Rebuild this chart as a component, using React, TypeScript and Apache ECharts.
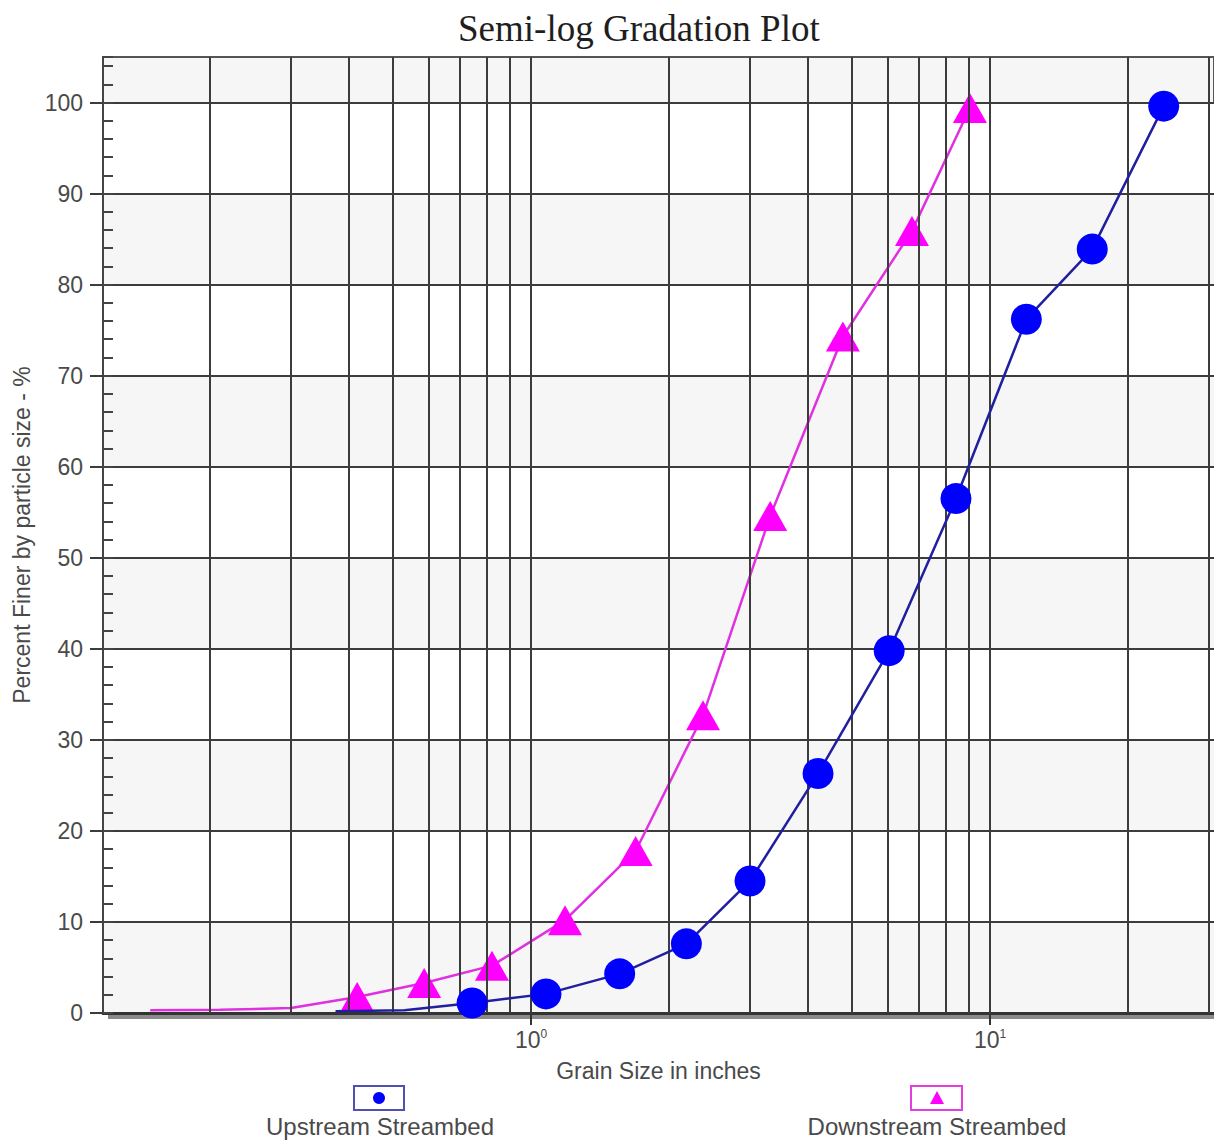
import React, { useEffect, useRef } from "react";
import * as echarts from "echarts";

const titleText = "Semi-log Gradation Plot";
const xAxisName = "Grain Size in inches";
const yAxisName = "Percent Finer by particle size - %";

const upstreamName = "Upstream Streambed";
const upstreamSize = [0.375, 0.53, 0.744, 1.078, 1.56, 2.18, 3.0, 4.22, 6.03, 8.43, 12.0, 16.7, 23.9];
const upstreamPct = [0.2, 0.3, 1.1, 2.1, 4.3, 7.6, 14.5, 26.3, 39.8, 56.5, 76.2, 83.9, 99.6];
const upstreamMarked = [false, false, true, true, true, true, true, true, true, true, true, true, true];

const downstreamName = "Downstream Streambed";
const downstreamSize = [0.148, 0.21, 0.3, 0.418, 0.585, 0.822, 1.186, 1.69, 2.37, 3.32, 4.78, 6.76, 9.04];
const downstreamPct = [0.3, 0.35, 0.55, 1.75, 3.3, 5.2, 10.2, 17.8, 32.7, 54.6, 74.3, 85.9, 99.4];
const downstreamMarked = [false, false, false, true, true, true, true, true, true, true, true, true, true];

const xGridValues = [0.2, 0.3, 0.4, 0.5, 0.6, 0.7, 0.8, 0.9, 1, 2, 3, 4, 5, 6, 7, 8, 9, 10, 20, 30];
const xLabelValues = [1, 10];
const xLabelExponents = ["0", "1"];
const yLabelValues = [0, 10, 20, 30, 40, 50, 60, 70, 80, 90, 100];

const X_MIN = 0.1168;
const X_MAX = 30.76;
const Y_MIN = 0;
const Y_MAX = 105;

const SANS = "'Liberation Sans', Arial, sans-serif";
const SERIF = "'Liberation Serif', 'Times New Roman', serif";
const GRID_COLOR = "#3c3c3c";
const TEXT_COLOR = "#4a4a4a";
const BAND_GRAY = "#f6f6f6";

export default function App() {
  const ref = useRef<HTMLDivElement>(null);

  useEffect(() => {
    if (!ref.current) return;
    const chart = echarts.init(ref.current, undefined, { renderer: "svg" });

    const upData = upstreamSize.map((s, i) =>
      upstreamMarked[i] ? { value: [s, upstreamPct[i]] } : { value: [s, upstreamPct[i]], symbol: "none" }
    );
    const downData = downstreamSize.map((s, i) =>
      downstreamMarked[i] ? { value: [s, downstreamPct[i]] } : { value: [s, downstreamPct[i]], symbol: "none" }
    );

    const option: any = {
      animation: false,
      backgroundColor: "#ffffff",
      title: {
        text: titleText,
        left: 453,
        top: 5,
        textStyle: { fontFamily: SERIF, fontSize: 37, fontWeight: "normal", color: "#1e1e1e" },
      },
      grid: {
        left: 103,
        top: 57,
        right: 0,
        bottom: 127,
        containLabel: false,
        show: true,
        backgroundColor: BAND_GRAY,
        borderColor: "#555555",
        borderWidth: 2,
      },
      xAxis: [
        {
          type: "log",
          logBase: 10,
          min: X_MIN,
          max: X_MAX,
          name: xAxisName,
          nameLocation: "middle",
          nameGap: 46,
          nameTextStyle: { fontFamily: SANS, fontSize: 23, color: TEXT_COLOR },
          axisLine: { show: true, lineStyle: { color: "#333333", width: 3 } },
          axisTick: { show: true, length: 12, customValues: xLabelValues, lineStyle: { color: "#333333", width: 2 } },
          axisLabel: {
            show: true,
            customValues: xLabelValues,
            margin: 15,
            fontFamily: SANS,
            fontSize: 23,
            color: TEXT_COLOR,
            formatter: (v: number) => {
              const i = xLabelValues.findIndex((x) => Math.abs(x - v) < 1e-6);
              return i >= 0 ? "10{sup|" + xLabelExponents[i] + "}" : "";
            },
            rich: {
              sup: { fontFamily: SANS, fontSize: 12, color: TEXT_COLOR, verticalAlign: "top", padding: [0, 0, 12, 0] },
            },
          },
          splitLine: { show: false },
          minorTick: { show: false },
        },
      ],
      yAxis: [
        {
          type: "value",
          min: Y_MIN,
          max: Y_MAX,
          interval: 10,
          name: yAxisName,
          nameLocation: "middle",
          nameGap: 70,
          nameTextStyle: { fontFamily: SANS, fontSize: 23, color: TEXT_COLOR },
          axisLine: { show: true, lineStyle: { color: "#444444", width: 2 } },
          axisTick: { show: true, length: 13, customValues: yLabelValues, lineStyle: { color: GRID_COLOR, width: 2 } },
          axisLabel: {
            show: true,
            customValues: yLabelValues,
            margin: 20,
            fontFamily: SANS,
            fontSize: 23,
            color: TEXT_COLOR,
          },
          splitLine: { show: true, lineStyle: { color: GRID_COLOR, width: 2 } },
          splitArea: { show: true, areaStyle: { color: [BAND_GRAY, "#ffffff"] } },
        },
        {
          type: "value",
          min: Y_MIN,
          max: Y_MAX,
          interval: 2,
          position: "left",
          offset: 0,
          axisLine: { show: false },
          axisTick: { show: true, inside: true, length: 10, lineStyle: { color: "#444444", width: 2 } },
          axisLabel: { show: false },
          splitLine: { show: false },
        },
      ],
      series: [
        {
          type: "line",
          name: "grid",
          data: [],
          silent: true,
          z: 1,
          markLine: {
            silent: true,
            symbol: ["none", "none"],
            label: { show: false },
            lineStyle: { color: GRID_COLOR, width: 2, type: "solid" },
            data: xGridValues.map((v) => ({ xAxis: v })),
          },
        },
        {
          type: "line",
          name: upstreamName,
          data: upData,
          z: 5,
          symbol: "circle",
          symbolSize: 31,
          showAllSymbol: true,
          itemStyle: { color: "#0000ff" },
          lineStyle: { color: "#1f1fa0", width: 2.5 },
        },
        {
          type: "line",
          name: downstreamName,
          data: downData,
          z: 4,
          symbol: "triangle",
          symbolSize: [34, 30],
          showAllSymbol: true,
          itemStyle: { color: "#ff00ff" },
          lineStyle: { color: "#e030e0", width: 2.5 },
        },
      ],
      graphic: [
        {
          type: "rect",
          z: -1,
          shape: { x: 108, y: 1014, width: 1106, height: 5 },
          style: { fill: "#8a8a8a" },
        },
        {
          type: "rect",
          shape: { x: 354, y: 1086, width: 50, height: 24 },
          style: { fill: "#ffffff", stroke: "#5050b0", lineWidth: 2 },
        },
        { type: "circle", shape: { cx: 379, cy: 1098, r: 6 }, style: { fill: "#0000ff" } },
        {
          type: "text",
          x: 380,
          y: 1126,
          style: { text: upstreamName, fontFamily: SANS, fontSize: 24, fill: TEXT_COLOR, align: "center", verticalAlign: "middle" },
        },
        {
          type: "rect",
          shape: { x: 911, y: 1086, width: 51, height: 24 },
          style: { fill: "#ffffff", stroke: "#e040e0", lineWidth: 2 },
        },
        {
          type: "polygon",
          shape: { points: [[937, 1091], [930, 1104], [944, 1104]] },
          style: { fill: "#ff00ff" },
        },
        {
          type: "text",
          x: 937,
          y: 1126,
          style: { text: downstreamName, fontFamily: SANS, fontSize: 24, fill: TEXT_COLOR, align: "center", verticalAlign: "middle" },
        },
      ],
    };

    chart.setOption(option);
    return () => chart.dispose();
  }, []);

  return (
    <div
      ref={ref}
      style={{ position: "absolute", left: 0, top: 0, width: 1214, height: 1140, background: "#ffffff" }}
    />
  );
}
